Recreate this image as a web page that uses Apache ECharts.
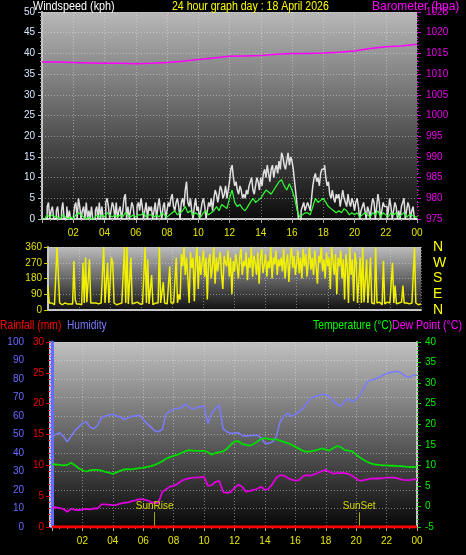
<!DOCTYPE html>
<html><head><meta charset="utf-8">
<script src="https://cdn.jsdelivr.net/npm/echarts@6/dist/echarts.min.js"></script>
<style>html,body{margin:0;padding:0;background:#000}#c{width:466px;height:555px}</style>
</head><body><div id="c"></div>
<script>
// ---------- DATA ----------
const hourTicks = ['02','04','06','08','10','12','14','16','18','20','22','00'];
// wind gust (kph), every 5 min from 00:00 to 24:00
const windGust = [
0,0,0,0,3,4,0,2,3,0,0,2,
3,0,0,2,4,0,0,3,0,2,0,0,
0,3,4,0,5,3,0,2,3,0,4,0,
2,0,3,0,0,2,3,0,4,0,3,0,
0,4,5,3,0,2,4,3,0,4,0,2,
3,0,2,5,6,0,3,0,2,4,3,0,
0,3,4,2,5,3,0,2,4,0,3,2,
3,0,2,4,0,3,5,2,0,3,4,0,
2,4,3,5,6,3,2,4,5,3,0,4,
5,3,7,9,4,3,5,2,0,3,5,2,
3,0,2,4,5,3,0,2,4,3,5,2,
5,7,6,4,6,8,7,5,6,8,5,7,
9,12,13,10,8,9,7,6,8,7,5,6,
5,7,6,8,9,10,7,6,8,10,9,7,
10,8,11,12,10,13,11,9,12,13,10,12,
13,11,14,12,16,15,13,12,14,16,13,15,
14,12,9,6,3,0,0,2,3,4,2,3,
4,3,2,5,8,10,11,9,10,8,11,12,
12,13,10,8,9,6,5,7,5,4,6,5,
6,3,5,7,5,4,3,6,4,3,5,4,
2,4,5,3,0,2,3,4,2,0,3,2,
0,3,5,4,0,3,6,4,0,2,4,3,
3,0,2,5,3,0,2,4,3,0,2,0,
3,4,5,0,2,4,3,0,2,3,0,0,
0];
// wind average (kph), every 10 min
const windAvg = [
0,0,1,0.5,1,0.5, 0.5,0,1,0.5,0,0.5, 0,1,1.5,1,0.5,0, 0.5,0,0,1,0.5,1, 0.5,1.5,1,0.5,1,0.5, 1,0.5,1.5,1,0.5,1,
0.5,1,1,1.5,0.5,1, 1,0.5,1,0.5,1.5,1, 0.5,1,1.5,2,1,1.5, 2,3,1.5,2,1,1.5, 1,0.5,1.5,2,1,1.5, 2,3,2,3.5,3,2.5,
5,7,4,3,3.5,2.5, 2,3,4,5,4,4.5, 5,6,7,6.5,6,7, 8,9,9.5,8,7,8.5, 7,5,2,0.5,1,1.5, 1.5,1,3,5,4,4.5,
5,4,3,2.5,2,1.5, 2,1.5,2.5,2,1,1.5, 1,1.5,0.5,1,1.5,1, 0.5,1.5,1,2,0.5,1.5, 1,0.5,1.5,1,1.5,0.5, 1,1.5,0.5,1,1,0.5, 0.5];
// barometer (hPa), hourly
const barometer = [1012.9,1012.9,1012.8,1012.7,1012.6,1012.6,1012.5,1012.6,1012.8,1013.1,1013.5,1013.9,1014.3,1014.4,1014.5,1014.8,1015.0,1015.0,1015.1,1015.3,1015.6,1016.2,1016.6,1016.8,1017.2];
// wind direction (deg), every 5 min
const windDir = [
135,40,35,40,35,30,40,360,350,40,35,30,
35,40,30,35,40,35,45,35,280,60,35,40,
35,40,30,270,40,300,45,35,290,40,35,40,
35,40,30,35,45,40,35,360,40,35,270,40,
35,300,270,40,35,30,40,35,45,40,35,360,
40,360,35,40,300,35,30,40,35,45,40,35,
40,35,45,360,40,290,35,40,200,30,35,40,
35,40,360,40,35,160,40,30,35,45,250,40,
35,40,45,300,40,90,60,320,250,360,200,300,
180,40,330,240,300,50,280,360,120,310,200,270,
340,190,300,60,280,320,180,250,360,150,300,220,
290,330,200,120,310,270,250,340,190,300,90,280,
220,320,260,180,300,350,200,280,250,330,170,300,
240,360,190,310,270,200,330,150,290,350,210,260,
320,190,280,240,360,180,300,260,340,200,290,250,
300,220,350,180,270,320,160,290,360,240,310,200,
270,340,210,300,180,350,250,320,190,280,360,230,
300,200,340,260,150,310,270,360,220,290,180,330,
250,300,120,360,280,200,320,90,300,250,340,180,
290,60,320,250,40,360,200,290,50,330,270,40,
35,300,40,360,45,35,290,40,35,300,40,30,
35,360,40,35,45,40,30,280,35,40,45,35,
40,35,270,40,140,35,30,40,35,45,140,40,
35,40,30,35,45,40,35,360,40,35,30,40,
35];
const dirLabels = {0:'N',90:'E',180:'S',270:'W',360:'N'};
// humidity (%), every 15 min
const humidity = [
49,50,51,49, 46,49,52,54, 56,57,54,53, 55,59,60,60.5, 61,60,59.5,58, 59,60,60,60.5,
58,56,54,52, 51.5,52.7,61,62.5, 63.6,64,64.3,66.5, 65,63.6,64.5,65, 65.4,56,61.4,64, 66,53,51.5,50.6,
50.8,51,49.5,49, 49.5,49.5,49.7,48, 45.2,45.2,46,49, 57,60,61.4,59.7, 61,62.3,64,67, 69.5,70.5,71,71.7,
71.5,70.5,68,66, 65.5,68,69.3,67.7, 69,71.4,75,78.6, 79.5,80,80.8,82, 83,83.5,84,84, 83,81.5,81,82, 82.2];
// temperature (C), every 15 min
const temperature = [
10.3,10.2,10.1,10.0, 10.1,10.6,10.0,9.3, 8.8,8.5,8.8,8.9, 8.9,8.7,8.4,8.2, 7.9,8.3,8.7,9.0, 9.1,9.0,9.2,9.3,
9.4,9.6,9.8,10.1, 10.5,11.0,11.6,12.0, 12.3,12.6,13.0,13.4, 13.7,13.6,13.5,13.5, 13.5,13.2,12.6,13.0, 13.2,13.4,14.0,15.0,
15.8,15.9,15.2,15.0, 14.8,15.2,15.8,16.4, 16.6,16.4,16.3,16.3, 16.0,15.7,15.4,15.0, 14.5,14.0,13.5,13.3, 13.4,13.6,13.8,14.1,
13.8,13.6,14.2,14.7, 14.4,13.7,13.6,13.4, 12.6,11.9,11.3,10.8, 10.4,10.2,10.1,10.0, 10.0,9.9,9.9,9.8, 9.8,9.7,9.6,9.6, 9.5];
// dew point (C), every 15 min
const dewPoint = [
-0.3,-0.2,-0.4,-0.6, -1.3,-0.6,-0.8,-0.9, -0.7,-0.6,-0.7,-0.5, -0.5,0.5,0.5,0.4, 0.3,0.4,0.7,0.9, 1.0,1.3,1.5,1.8,
1.7,1.5,1.1,0.8, 0.9,3.5,4.2,4.8, 5.0,5.5,6.2,6.6, 6.8,7.0,7.0,7.1, 7.2,5.0,5.2,6.0, 6.2,3.5,3.3,3.5,
4.5,5.3,4.8,3.6, 3.8,4.0,4.3,4.8, 4.0,4.3,5.5,7.0, 7.6,7.5,6.9,6.5, 6.3,6.4,7.3,7.6, 7.5,7.8,8.2,8.6,
8.9,8.4,8.0,8.1, 8.2,8.1,7.9,7.4, 6.8,6.2,6.4,6.6, 6.8,6.8,6.8,6.9, 7.0,7.0,7.0,6.8, 6.5,6.4,6.4,6.6, 6.6];
// rainfall (mm), hourly
const rainfall = [0,0,0,0,0,0,0,0,0,0,0,0,0,0,0,0,0,0,0,0,0,0,0,0,0];
const sunTimes = [6.75, 20.2];
const sunLabels = ['SunRise', 'SunSet'];

// ---------- BUILD ----------
const pairs = (arr, step) => arr.map((v, i) => [i * step, v]);
const G = echarts.graphic;
const bg = (a, b) => new G.LinearGradient(0, 0, 0, 1, [{offset: 0, color: a}, {offset: 1, color: b}]);
const FONT = 'Liberation Sans';
const gridLine = {show: true, lineStyle: {color: 'rgba(235,235,235,0.45)', type: [1, 2], width: 1}};
const hourLabel = v => { const h = Math.round(v) % 24; return (h < 10 ? '0' : '') + h; };
const xBase = (gi, show) => ({
  type: 'value', gridIndex: gi, min: 0, max: 24, interval: 2,
  axisLine: {show: true, lineStyle: {color: '#c8c8c8', width: 2}},
  axisTick: {show: show, length: 4, lineStyle: {color: '#aaa'}},
  minorTick: {show: show, splitNumber: 4, length: 2, lineStyle: {color: '#888'}},
  axisLabel: {show: show, showMinLabel: false, color: '#e6e600', fontSize: 10, fontFamily: FONT, margin: 9, formatter: hourLabel},
  splitLine: gridLine
});
const yTick = c => ({show: true, length: 4, lineStyle: {color: c}});
const yMinor = c => ({show: true, splitNumber: 5, length: 2, lineStyle: {color: c}});
const plain = v => String(v);
const label = (text, x, y, color, sx) => ({type: 'text', x: x, y: y, scaleX: sx, style: {text: text, fill: color, font: '12px ' + FONT}});

const option = {
  backgroundColor: '#000',
  animation: false,
  grid: [
    {left: 42, top: 12, width: 375, height: 207, show: true, borderWidth: 0, backgroundColor: bg('#b8b8b8', '#0c0c0c')},
    {left: 48, top: 247, width: 373, height: 63, show: true, borderWidth: 0, backgroundColor: bg('#bcbcbc', '#101010')},
    {left: 52, top: 342, width: 365, height: 185, show: true, borderWidth: 0, backgroundColor: bg('#c0c0c0', '#080808')}
  ],
  xAxis: [xBase(0, true), xBase(1, false), xBase(2, true)],
  yAxis: [
    {type: 'value', gridIndex: 0, min: 0, max: 50, interval: 5, position: 'left',
      axisLine: {show: true, lineStyle: {color: '#c8c8c8', width: 2}}, axisTick: yTick('#bbb'), minorTick: yMinor('#999'),
      axisLabel: {color: '#d8e6ff', fontSize: 10, fontFamily: FONT, margin: 7}, splitLine: gridLine},
    {type: 'value', gridIndex: 0, min: 975, max: 1025, interval: 5, position: 'right',
      axisLine: {show: false}, axisTick: yTick('#d000d0'), minorTick: yMinor('#b000b0'),
      axisLabel: {color: '#e800e8', fontSize: 10, fontFamily: FONT, margin: 9, formatter: plain}, splitLine: {show: false}},
    {type: 'value', gridIndex: 1, min: 0, max: 360, interval: 90, position: 'left',
      axisLine: {show: true, lineStyle: {color: '#c8c8c8', width: 2}}, axisTick: yTick('#cccc00'),
      axisLabel: {color: '#e0e000', fontSize: 10, fontFamily: FONT, margin: 6}, splitLine: gridLine},
    {type: 'value', gridIndex: 1, min: 0, max: 360, interval: 90, position: 'right',
      axisLine: {show: false}, axisTick: {show: false},
      axisLabel: {color: '#ffff00', fontSize: 14, fontFamily: FONT, margin: 12, formatter: v => dirLabels[v]}, splitLine: {show: false}},
    {type: 'value', gridIndex: 2, min: 0, max: 100, interval: 10, position: 'left', offset: 22,
      axisLine: {show: true, lineStyle: {color: '#6a6aff', width: 3}}, axisTick: yTick('#6a6aff'), minorTick: yMinor('#6a6aff'),
      axisLabel: {color: '#6a6aff', fontSize: 10, fontFamily: FONT, margin: 6}, splitLine: gridLine},
    {type: 'value', gridIndex: 2, min: 0, max: 30, interval: 5, position: 'left', offset: 2,
      axisLine: {show: true, lineStyle: {color: '#c8c8c8', width: 2}}, axisTick: yTick('#e00000'), minorTick: yMinor('#c00000'),
      axisLabel: {color: '#ee0000', fontSize: 10, fontFamily: FONT, margin: 6}, splitLine: {show: false}},
    {type: 'value', gridIndex: 2, min: -5, max: 40, interval: 5, position: 'right',
      axisLine: {show: true, lineStyle: {color: '#c8c8c8', width: 2}}, axisTick: yTick('#00d000'), minorTick: yMinor('#00b000'),
      axisLabel: {color: '#00ee00', fontSize: 10, fontFamily: FONT, margin: 8}, splitLine: {show: false}}
  ],
  series: [
    {type: 'line', xAxisIndex: 0, yAxisIndex: 0, data: pairs(windGust, 1/12), step: 'end', symbol: 'none',
      lineStyle: {color: '#f4f4f4', width: 1.5, opacity: 0.9}},
    {type: 'line', xAxisIndex: 0, yAxisIndex: 0, data: pairs(windAvg, 1/6), symbol: 'none',
      lineStyle: {color: '#30ff30', width: 1.2}},
    {type: 'line', xAxisIndex: 0, yAxisIndex: 1, data: pairs(barometer, 1), symbol: 'none',
      lineStyle: {color: '#ff00ff', width: 1.5}},
    {type: 'line', xAxisIndex: 1, yAxisIndex: 2, data: pairs(windDir, 1/12), symbol: 'none',
      lineStyle: {color: '#f0f000', width: 1.5}},
    {type: 'line', xAxisIndex: 2, yAxisIndex: 4, data: pairs(humidity, 0.25), symbol: 'none',
      lineStyle: {color: '#7a7aff', width: 1.5}},
    {type: 'line', xAxisIndex: 2, yAxisIndex: 6, data: pairs(temperature, 0.25), symbol: 'none',
      lineStyle: {color: '#00dd00', width: 1.8}},
    {type: 'line', xAxisIndex: 2, yAxisIndex: 6, data: pairs(dewPoint, 0.25), symbol: 'none',
      lineStyle: {color: '#dd00dd', width: 1.8},
      markLine: {silent: true, symbol: 'none', lineStyle: {color: '#a8a800', type: 'solid', width: 1},
        label: {show: true, position: 'end', distance: 1, color: '#d8d800', fontSize: 10, fontFamily: FONT, formatter: p => p.name},
        data: sunTimes.map((t, i) => [{name: sunLabels[i], coord: [t, -5]}, {coord: [t, -1.4]}])}},
    {type: 'line', xAxisIndex: 2, yAxisIndex: 5, data: pairs(rainfall, 1), symbol: 'none', z: 5,
      lineStyle: {color: '#ff0000', width: 3}}
  ],
  graphic: [
    label('Windspeed (kph)', 33, 1, '#ffffff', 0.9),
    label('24 hour graph day : 18 April 2026', 172, 1, '#ffff00', 0.88),
    label('Barometer (hpa)', 372, 1, '#ff00ff', 1.0),
    label('Rainfall (mm)', 0, 320, '#ff0000', 0.86),
    label('Humidity', 67, 320, '#7a7aff', 0.85),
    label('Temperature (°C)', 313, 320, '#00ff00', 0.86),
    label('Dew Point (°C)', 392, 320, '#ff00ff', 0.88)
  ]
};
echarts.init(document.getElementById('c'), null, {renderer: 'canvas'}).setOption(option);
</script></body></html>
